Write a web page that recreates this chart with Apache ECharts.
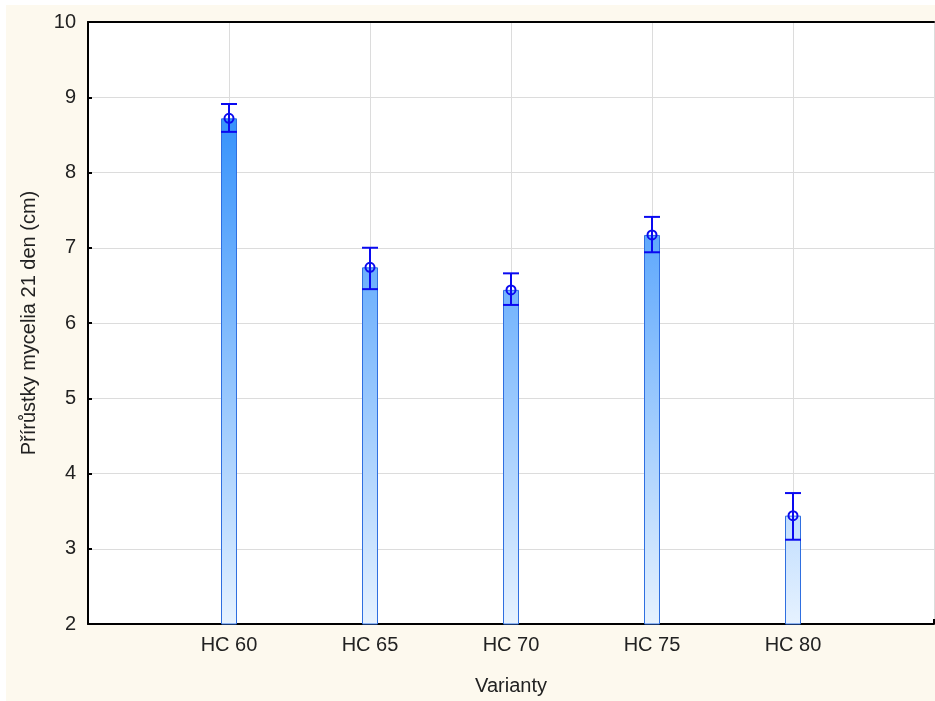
<!DOCTYPE html>
<html><head><meta charset="utf-8">
<script src="https://cdn.jsdelivr.net/npm/echarts@6/dist/echarts.min.js"></script>
<style>html,body{margin:0;padding:0;background:#fff;}#wrap{position:relative;width:935px;height:701px;background:#fff;overflow:hidden;}#c{position:absolute;left:6px;top:5px;width:931px;height:696px;}</style>
</head><body><div id="wrap"><div id="c"></div></div>
<script>
const categories = ['', 'HC 60', 'HC 65', 'HC 70', 'HC 75', 'HC 80', ''];
const means = [null, 8.72, 6.74, 6.44, 7.17, 3.44, null];
const upper = [null, 8.91, 7.00, 6.66, 7.41, 3.74, null];
const lower = [null, 8.54, 6.45, 6.24, 6.94, 3.12, null];
const yTicks = [2, 3, 4, 5, 6, 7, 8, 9, 10];

const chart = echarts.init(document.getElementById('c'));
const font = 'Liberation Sans, Arial, sans-serif';
const blue = '#0a0af0';
const gridTop = 17, gridBottom = 77;
const errData = [];
for (let i = 0; i < categories.length; i++) {
  if (means[i] != null) errData.push([i, lower[i], upper[i], means[i]]);
}
chart.setOption({
  backgroundColor: '#fdf9ee',
  animation: false,
  grid: { left: 82, right: 0.6, top: gridTop, bottom: gridBottom, show: true, backgroundColor: '#fff', borderWidth: 0 },
  xAxis: [{
    type: 'category', data: categories, boundaryGap: false,
    name: 'Varianty', nameLocation: 'middle', nameGap: 52,
    nameTextStyle: { fontFamily: font, fontSize: 20, color: '#222' },
    axisLine: { lineStyle: { color: '#000', width: 2 } },
    axisTick: { inside: true, length: 5, lineStyle: { color: '#000', width: 2 } },
    axisLabel: { fontFamily: font, fontSize: 20, color: '#222', margin: 11 },
    splitLine: { show: true, lineStyle: { color: '#dcdcdc', width: 1 } }
  }, {
    type: 'category', data: categories, boundaryGap: false, position: 'top',
    axisLine: { lineStyle: { color: '#000', width: 2 } },
    axisTick: { show: false }, axisLabel: { show: false }, splitLine: { show: false }
  }],
  yAxis: {
    type: 'value', min: yTicks[0], max: yTicks[yTicks.length - 1], interval: 1,
    name: 'Přírůstky mycelia 21 den (cm)', nameLocation: 'middle', nameGap: 49,
    nameTextStyle: { fontFamily: font, fontSize: 20, color: '#222' },
    axisLine: { show: true, lineStyle: { color: '#000', width: 2 } },
    axisTick: { show: true, inside: true, length: 4, lineStyle: { color: '#000', width: 2 } },
    axisLabel: { fontFamily: font, fontSize: 20, color: '#222', margin: 12 },
    splitLine: { show: true, lineStyle: { color: '#dcdcdc', width: 1 } }
  },
  series: [{
    type: 'bar', data: means, barWidth: 16,
    itemStyle: {
      borderColor: '#2f6fe0', borderWidth: 1,
      color: new echarts.graphic.LinearGradient(0, gridTop, 0, 696 - gridBottom, [
        { offset: 0, color: '#1580fb' },
        { offset: 1, color: '#e6f2ff' }
      ], true)
    }
  }, {
    type: 'custom', data: errData, z: 10,
    renderItem: function (params, api) {
      const x = api.coord([api.value(0), api.value(1)])[0];
      const yl = api.coord([api.value(0), api.value(1)])[1];
      const yu = api.coord([api.value(0), api.value(2)])[1];
      const ym = api.coord([api.value(0), api.value(3)])[1];
      const hw = 8;
      const st = { stroke: blue, lineWidth: 2, fill: null };
      return { type: 'group', children: [
        { type: 'line', shape: { x1: x, y1: yu, x2: x, y2: yl }, style: st },
        { type: 'line', shape: { x1: x - hw, y1: yu, x2: x + hw, y2: yu }, style: st },
        { type: 'line', shape: { x1: x - hw, y1: yl, x2: x + hw, y2: yl }, style: st },
        { type: 'circle', shape: { cx: x, cy: ym, r: 4.5 }, style: { stroke: blue, lineWidth: 2, fill: 'rgba(0,0,0,0)' } }
      ]};
    }
  }]
});
</script></body></html>
